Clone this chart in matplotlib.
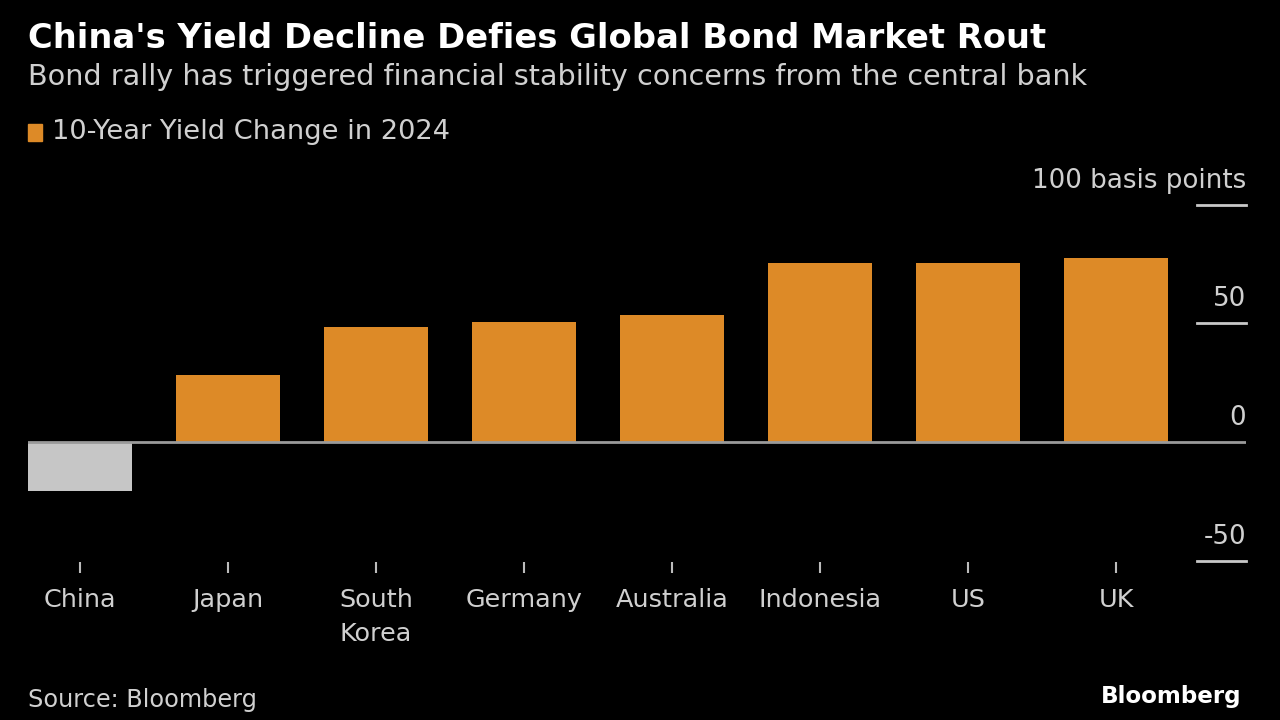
import matplotlib
matplotlib.use("Agg")
import matplotlib.pyplot as plt
import matplotlib.transforms as mtransforms

countries = ["China", "Japan", "South\nKorea", "Germany", "Australia", "Indonesia", "US", "UK"]
changes = [-20.5, 28.2, 48.3, 50.4, 53.5, 75.3, 75.3, 77.5]
ytick_vals = [100, 50, 0, -50]
ytick_labels = ["100 basis points", "50", "0", "-50"]

title = "China's Yield Decline Defies Global Bond Market Rout"
subtitle = "Bond rally has triggered financial stability concerns from the central bank"
legend_label = "10-Year Yield Change in 2024"
source = "Source: Bloomberg"
brand = "Bloomberg"

FONT = "DejaVu Sans"
BG = "black"
ORANGE = "#DD8A27"
GREY_BAR = "#C6C6C6"
TXT = "#D0D0D0"

W, H = 1280, 720
fig = plt.figure(figsize=(W / 100, H / 100), dpi=100, facecolor=BG)
renderer = fig.canvas.get_renderer()


def fx(px):
    return px / W


def fy(py):
    return 1 - py / H


def fit_size(s, target_px, **kw):
    t = fig.text(0, 0, s, fontsize=20, family=FONT, **kw)
    bb = t.get_window_extent(renderer=renderer)
    size = 20 * target_px / bb.width
    t.remove()
    return size


# axes geometry: y=0 at 442 px, 2.373 px per unit
zero_px, ppu = 442.0, 2.373
ytop, ybot = 102.0, -50.5
top_px = zero_px - ytop * ppu
bot_px = zero_px - ybot * ppu
ax_left, ax_right = 28, 1246
ax = fig.add_axes([fx(ax_left), fy(bot_px), fx(ax_right - ax_left), (bot_px - top_px) / H])
ax.set_facecolor(BG)
ax.set_ylim(ybot, ytop)
ax.set_xlim(-0.35, 7.878)

x = list(range(len(countries)))
colors = [GREY_BAR if v < 0 else ORANGE for v in changes]
ax.bar(x, changes, width=0.7, color=colors, zorder=2)

for s in ax.spines.values():
    s.set_visible(False)

ax.axhline(0, color="#9A9A9A", lw=2, zorder=3)
gx0 = (1197 - ax_left) / (ax_right - ax_left)
trans = mtransforms.blended_transform_factory(ax.transAxes, ax.transData)
label_size = fit_size("Germany", 117)
ylab_size = fit_size(ytick_labels[0], 214)
for v, lab in zip(ytick_vals, ytick_labels):
    if v != 0:
        ax.plot([gx0, 1.0], [v, v], transform=trans, color="#C8C8C8", lw=2,
                clip_on=False, zorder=3)
    ax.annotate(lab, xy=(1.0, v), xycoords=trans, xytext=(0, 24), textcoords="offset pixels",
                ha="right", va="center", color=TXT, fontsize=ylab_size, family=FONT)

ax.set_yticks([])
ax.set_xticks(x)
ax.set_xticklabels(countries, color=TXT, fontsize=label_size, family=FONT,
                   linespacing=1.57, va="top")
ax.tick_params(axis="x", colors="#BBBBBB", length=8, width=1.5, pad=10.5, labelcolor=TXT)

fig.text(fx(28), fy(38), title, color="white", family=FONT, fontweight="bold",
         fontsize=fit_size(title, 1017, fontweight="bold"), ha="left", va="center")
fig.text(fx(28), fy(77), subtitle, color=TXT, family=FONT,
         fontsize=fit_size(subtitle, 1057), ha="left", va="center")

fig.patches.append(plt.Rectangle((fx(28), fy(141)), fx(14), 17 / H, transform=fig.transFigure,
                                 color=ORANGE, figure=fig))
fig.text(fx(52), fy(132), legend_label, color=TXT, family=FONT,
         fontsize=fit_size(legend_label, 398), ha="left", va="center")

fig.text(fx(28), fy(700), source, color=TXT, family=FONT,
         fontsize=fit_size(source, 229), ha="left", va="center")
fig.text(fx(1241), fy(697), brand, color="white", family=FONT, fontweight="bold",
         fontsize=fit_size(brand, 141, fontweight="bold"), ha="right", va="center")

fig.savefig("out.png", dpi=100, facecolor=BG)
